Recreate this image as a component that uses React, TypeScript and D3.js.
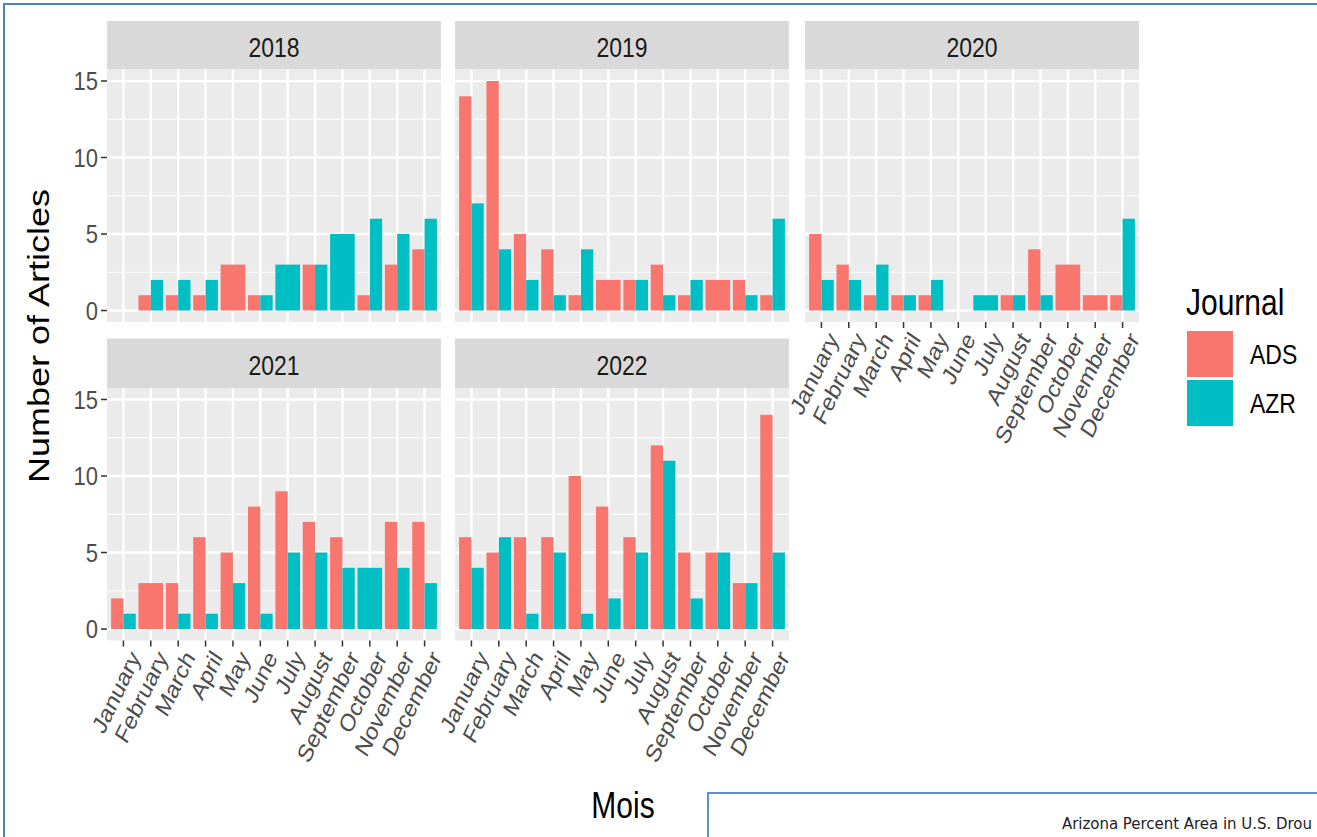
import React from "react";
import * as d3 from "d3";

const months = ["January", "February", "March", "April", "May", "June", "July", "August", "September", "October", "November", "December"];
const years = ["2018", "2019", "2020", "2021", "2022"];
const journals = ["ADS", "AZR"];
const yTicks = [0, 5, 10, 15];
const yMinor = [2.5, 7.5, 12.5];

// 0 = no articles that month (no row, so the other bar takes the full width)
const ads2018 = [0, 1, 1, 1, 3, 1, 0, 3, 0, 1, 3, 4];
const azr2018 = [0, 2, 2, 2, 0, 1, 3, 3, 5, 6, 5, 6];
const ads2019 = [14, 15, 5, 4, 1, 2, 2, 3, 1, 2, 2, 1];
const azr2019 = [7, 4, 2, 1, 4, 0, 2, 1, 2, 0, 1, 6];
const ads2020 = [5, 3, 1, 1, 1, 0, 0, 1, 4, 3, 1, 1];
const azr2020 = [2, 2, 3, 1, 2, 0, 1, 1, 1, 0, 0, 6];
const ads2021 = [2, 3, 3, 6, 5, 8, 9, 7, 6, 0, 7, 7];
const azr2021 = [1, 0, 1, 1, 3, 1, 5, 5, 4, 4, 4, 3];
const ads2022 = [6, 5, 6, 6, 10, 8, 6, 12, 5, 5, 3, 14];
const azr2022 = [4, 6, 1, 5, 1, 2, 5, 11, 2, 5, 3, 5];

const series: Record<string, number[][]> = {
  "2018": [ads2018, azr2018],
  "2019": [ads2019, azr2019],
  "2020": [ads2020, azr2020],
  "2021": [ads2021, azr2021],
  "2022": [ads2022, azr2022],
};

const colors = d3.scaleOrdinal<string, string>().domain(journals).range(["#F8766D", "#00BFC4"]);
const font = "'Liberation Sans', Arial, sans-serif";
const sy = 1.2; // the screenshot is a bit stretched vertically

const colX = [107, 455, 805];
const panelW = 334;
const rows = [
  { stripTop: 21, top: 69.5 },
  { stripTop: 338.5, top: 388 },
];
const panelH = 252.5;

const x = d3.scaleBand<string>().domain(months).range([0, panelW]).paddingInner(0).paddingOuter(0.1);

function Panel({ year, idx }: { year: string; idx: number }) {
  const r = Math.floor(idx / 3);
  const c = idx % 3;
  const left = colX[c];
  const { stripTop, top } = rows[r];
  const y = d3.scaleLinear().domain([-0.75, 15.75]).range([panelH, 0]);
  const [ads, azr] = series[year];
  const showX = year === "2020" || r === 1;
  const showY = c === 0;
  const bw = x.bandwidth() * 0.9;

  const bars: any[] = [];
  months.forEach((m, i) => {
    const vals = [ads[i], azr[i]];
    const present = journals.filter((j, k) => vals[k] > 0);
    const cx = (x(m) as number) + x.bandwidth() / 2;
    const sub = d3.scaleBand<string>().domain(present).range([cx - bw / 2, cx + bw / 2]);
    present.forEach((j) => {
      const v = vals[journals.indexOf(j)];
      bars.push(
        <rect key={m + j} x={sub(j)} width={sub.bandwidth()} y={y(v)} height={y(0) - y(v)} fill={colors(j)} />
      );
    });
  });

  return (
    <g>
      <rect x={left} y={stripTop} width={panelW} height={top - stripTop} fill="#D9D9D9" />
      <text transform={`translate(${left + panelW / 2},${(stripTop + top) / 2 + 2}) scale(1,${sy})`} dy="0.35em" textAnchor="middle" fontFamily={font} fontSize={23} fill="#1A1A1A">
        {year}
      </text>
      <g transform={`translate(${left},${top})`}>
        <rect width={panelW} height={panelH} fill="#EBEBEB" />
        {yMinor.map((t) => (
          <line key={"mi" + t} x1={0} x2={panelW} y1={y(t)} y2={y(t)} stroke="#fff" strokeWidth={1.2} />
        ))}
        {yTicks.map((t) => (
          <line key={"ma" + t} x1={0} x2={panelW} y1={y(t)} y2={y(t)} stroke="#fff" strokeWidth={2.4} />
        ))}
        {months.map((m) => (
          <line key={"v" + m} x1={(x(m) as number) + x.bandwidth() / 2} x2={(x(m) as number) + x.bandwidth() / 2} y1={0} y2={panelH} stroke="#fff" strokeWidth={2.4} />
        ))}
        {bars}
        {showY &&
          yTicks.map((t) => (
            <g key={"yt" + t} transform={`translate(0,${y(t)})`}>
              <line x1={-6} x2={0} stroke="#333" strokeWidth={1.5} />
              <text transform={`translate(-9,0) scale(1,${sy})`} dy="0.35em" textAnchor="end" fontFamily={font} fontSize={22} fill="#4D4D4D">
                {t}
              </text>
            </g>
          ))}
        {showX &&
          months.map((m) => {
            const cx = (x(m) as number) + x.bandwidth() / 2;
            return (
              <g key={"xt" + m} transform={`translate(${cx},${panelH})`}>
                <line y1={0} y2={6} stroke="#333" strokeWidth={1.5} />
                <text transform={`scale(1,${sy}) translate(5,7) rotate(-60)`} textAnchor="end" dy="0.7em" fontFamily={font} fontSize={21} fill="#4D4D4D">
                  {m}
                </text>
              </g>
            );
          })}
      </g>
    </g>
  );
}

export default function App() {
  return (
    <svg width={1317} height={837} style={{ position: "absolute", left: 0, top: 0, background: "#fff" }}>
      <rect x={0} y={0} width={1317} height={837} fill="#fff" />
      {years.map((yr, i) => (
        <Panel key={yr} year={yr} idx={i} />
      ))}
      <text transform={`translate(38,336) rotate(-90) scale(${sy},1)`} dy="0.35em" textAnchor="middle" fontFamily={font} fontSize={30} fill="#000">
        Number of Articles
      </text>
      <text transform={`translate(623,805) scale(1,${sy})`} dy="0.35em" textAnchor="middle" fontFamily={font} fontSize={30} fill="#000">
        Mois
      </text>
      <text transform={`translate(1186,302) scale(1,${sy})`} dy="0.35em" fontFamily={font} fontSize={30} fill="#000">
        Journal
      </text>
      {journals.map((j, i) => (
        <g key={j} transform={`translate(1187,${331 + i * 49})`}>
          <rect width={46} height={46} fill={colors(j)} />
          <text transform={`translate(63,23) scale(1,${sy})`} dy="0.35em" fontFamily={font} fontSize={23} fill="#000">
            {j}
          </text>
        </g>
      ))}
      <rect x={4} y={4} width={1400} height={900} fill="none" stroke="#4F81BD" strokeWidth={2} />
      <rect x={708} y={793} width={700} height={100} fill="#fff" stroke="#5B8FD6" strokeWidth={2} />
      <text x={1062} y={829} fontFamily="'DejaVu Sans', sans-serif" fontSize={15} textLength={250} fill="#222">
        Arizona Percent Area in U.S. Drou
      </text>
    </svg>
  );
}
